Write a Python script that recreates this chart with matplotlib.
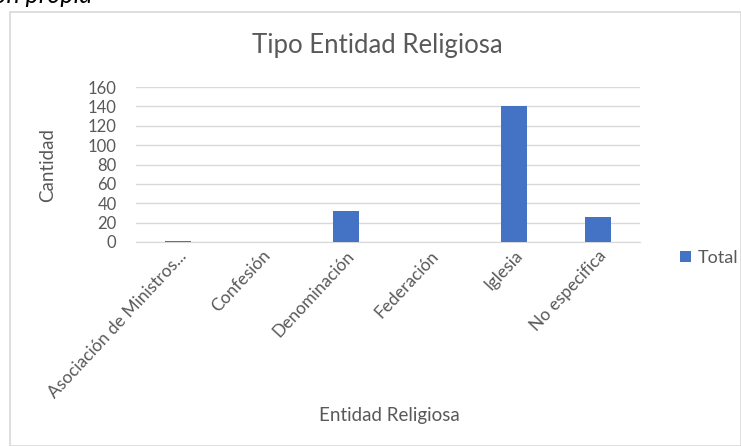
import matplotlib
matplotlib.use("Agg")
import matplotlib.pyplot as plt
from matplotlib.patches import Rectangle

# data
categorias = ["Asociación de Ministros...", "Confesión", "Denominación",
              "Federación", "Iglesia", "No especifica"]
totales = [1, 0, 32, 0, 140, 26]
y_ticks = [0, 20, 40, 60, 80, 100, 120, 140, 160]

W, H = 741, 446
plt.rcParams['font.family'] = ['Lato', 'DejaVu Sans']
gris = '#595959'

fig = plt.figure(figsize=(W / 100, H / 100), dpi=100)

# chart frame and the clipped caption above it
fig.patches.append(Rectangle((10 / W, 0), (W - 10.5) / W, 1 - 12 / H,
                             transform=fig.transFigure, fill=False,
                             edgecolor='#d9d9d9', linewidth=1.2))
fig.text(92 / W, 1 - 3 / H, "Elaboración propia", ha='right',
         va='baseline', style='italic', fontsize=18, color='black')

ax = fig.add_axes([136 / W, 1 - 242 / H, (640 - 136) / W, (242 - 87) / H])
x = list(range(len(categorias)))
ax.bar(x, totales, width=0.32, color='#4472c4', label='Total', zorder=3)

ax.set_xlim(-0.5, len(categorias) - 0.5)
ax.set_ylim(0, 160)
ax.set_yticks(y_ticks)
ax.grid(axis='y', color='#d9d9d9', linewidth=1, zorder=0)
for s in ['top', 'right', 'left']:
    ax.spines[s].set_visible(False)
ax.spines['bottom'].set_color('#d9d9d9')
ax.tick_params(axis='both', length=0, colors=gris, labelsize=12)
ax.tick_params(axis='y', pad=14)
ax.set_xticks(x)
ax.set_xticklabels(categorias, rotation=47, ha='right', va='top',
                   rotation_mode='anchor', fontsize=12.5)
ax.tick_params(axis='x', pad=4)

fig.text(377 / W, 1 - 53 / H, "Tipo Entidad Religiosa", ha='center',
         va='baseline', fontsize=18.5, color=gris)
fig.text(389 / W, 1 - 415 / H, "Entidad Religiosa", ha='center', va='center',
         fontsize=13.5, color=gris)
fig.text(48 / W, 1 - 165 / H, "Cantidad", ha='center', va='center',
         rotation=90, fontsize=13.5, color=gris)

fig.legend(loc='center left', bbox_to_anchor=(664 / W, 1 - 258 / H),
           frameon=False, fontsize=13, labelcolor=gris,
           handlelength=0.6, handleheight=0.6, handletextpad=0.35)

fig.savefig("out.png", dpi=100)
